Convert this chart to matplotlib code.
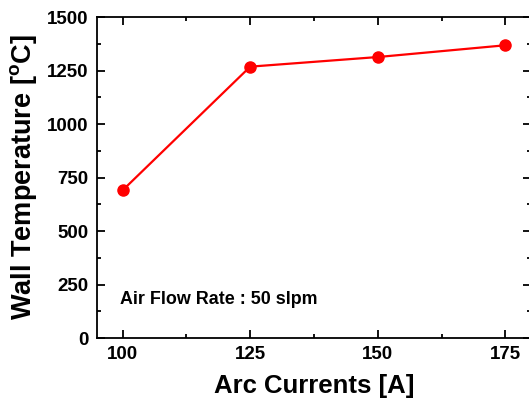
import matplotlib
matplotlib.use('Agg')
import matplotlib.pyplot as plt
from matplotlib.ticker import MultipleLocator

plt.rcParams['font.family'] = ['Liberation Sans', 'DejaVu Sans']
plt.rcParams['mathtext.fontset'] = 'custom'
plt.rcParams['mathtext.rm'] = 'Liberation Sans:bold'
plt.rcParams['mathtext.bf'] = 'Liberation Sans:bold'

# data
currents = [100, 125, 150, 175]
wall_temp = [690, 1268, 1313, 1368]
x_ticks = [100, 125, 150, 175]
y_ticks = [0, 250, 500, 750, 1000, 1250, 1500]

fig = plt.figure(figsize=(5.29, 4.01), dpi=100)
ax = fig.add_axes([0.1834, 0.157, 1.0038 - 0.1834, 0.9576 - 0.157])

ax.plot(currents, wall_temp, color='red', lw=1.6, marker='o', markersize=8)

ax.set_xlim(95, 180)
ax.set_ylim(0, 1500)
ax.set_xticks(x_ticks)
ax.set_yticks(y_ticks)
ax.xaxis.set_minor_locator(MultipleLocator(12.5))
ax.yaxis.set_minor_locator(MultipleLocator(125))
ax.tick_params(which='both', direction='in', top=True, right=True, width=1.3)
ax.tick_params(which='major', length=6, labelsize=13.5, pad=6)
ax.tick_params(which='minor', length=3)
for lbl in ax.get_xticklabels() + ax.get_yticklabels():
    lbl.set_fontweight('bold')
for sp in ax.spines.values():
    sp.set_linewidth(1.3)

ax.set_xlabel('Arc Currents [A]', fontsize=18.5, fontweight='bold', labelpad=8)
ax.set_ylabel(r'Wall Temperature [$^{\mathrm{o}}$C]', fontsize=19.5, fontweight='bold', labelpad=6)

ax.text(99.5, 182, 'Air Flow Rate : 50 slpm', fontsize=12.9, fontweight='bold',
        ha='left', va='center')

fig.savefig('out.png', dpi=100)
